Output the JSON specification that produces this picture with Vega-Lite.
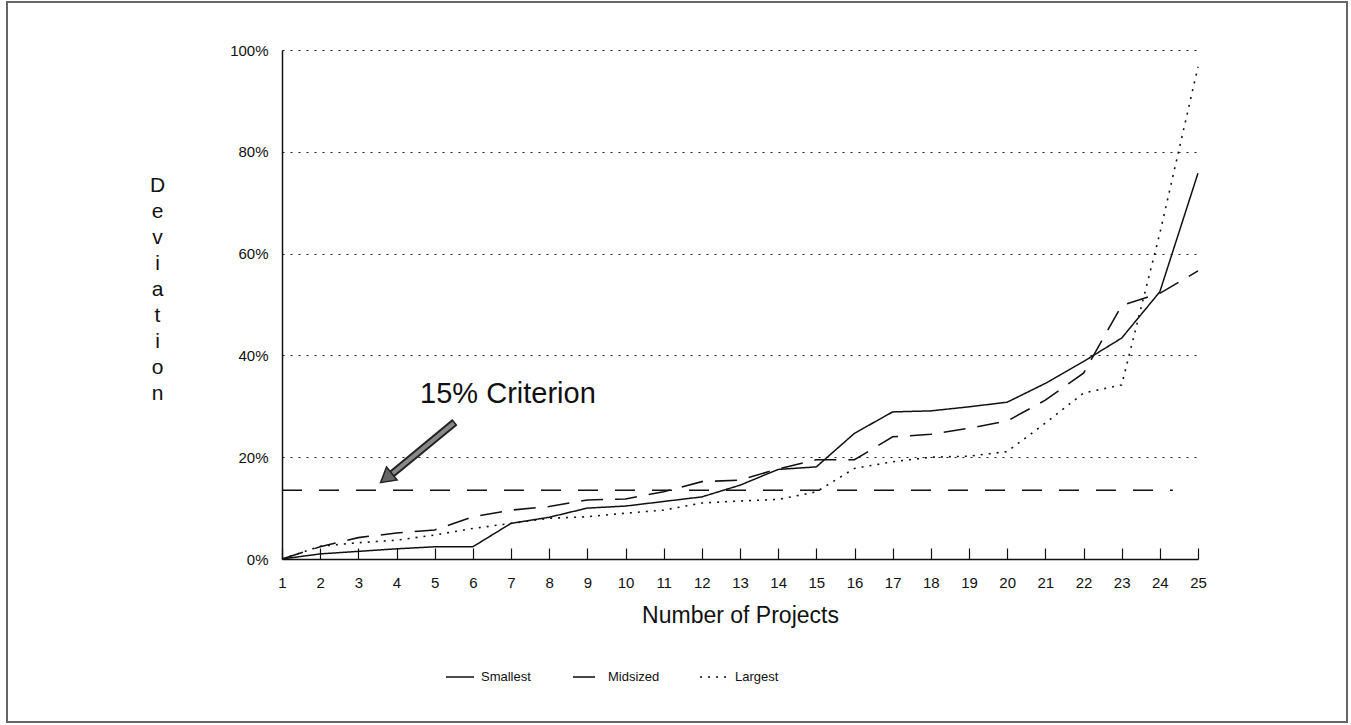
{
  "$schema": "https://vega.github.io/schema/vega-lite/v6.json",
  "width": 916,
  "height": 509,
  "padding": {"left": 6, "top": 1, "right": 0, "bottom": 0},
  "background": "white",
  "config": {
    "view": {"stroke": null},
    "font": "Liberation Sans",
    "axis": {"labelFont": "Liberation Sans", "titleFont": "Liberation Sans", "labelColor": "#111", "titleColor": "#111", "titleFontWeight": "normal"},
    "legend": {"labelFont": "Liberation Sans"}
  },
  "datasets": {
    "series": [
      {"project": 1, "series": "Smallest", "deviation": 0},
      {"project": 2, "series": "Smallest", "deviation": 0.01},
      {"project": 3, "series": "Smallest", "deviation": 0.015},
      {"project": 4, "series": "Smallest", "deviation": 0.02},
      {"project": 5, "series": "Smallest", "deviation": 0.024},
      {"project": 6, "series": "Smallest", "deviation": 0.024},
      {"project": 7, "series": "Smallest", "deviation": 0.07},
      {"project": 8, "series": "Smallest", "deviation": 0.082},
      {"project": 9, "series": "Smallest", "deviation": 0.1},
      {"project": 10, "series": "Smallest", "deviation": 0.104},
      {"project": 11, "series": "Smallest", "deviation": 0.113},
      {"project": 12, "series": "Smallest", "deviation": 0.122},
      {"project": 13, "series": "Smallest", "deviation": 0.145},
      {"project": 14, "series": "Smallest", "deviation": 0.176},
      {"project": 15, "series": "Smallest", "deviation": 0.181},
      {"project": 16, "series": "Smallest", "deviation": 0.247},
      {"project": 17, "series": "Smallest", "deviation": 0.289},
      {"project": 18, "series": "Smallest", "deviation": 0.291},
      {"project": 19, "series": "Smallest", "deviation": 0.299},
      {"project": 20, "series": "Smallest", "deviation": 0.308},
      {"project": 21, "series": "Smallest", "deviation": 0.345},
      {"project": 22, "series": "Smallest", "deviation": 0.388},
      {"project": 23, "series": "Smallest", "deviation": 0.434},
      {"project": 24, "series": "Smallest", "deviation": 0.525},
      {"project": 25, "series": "Smallest", "deviation": 0.758},
      {"project": 1, "series": "Midsized", "deviation": 0},
      {"project": 2, "series": "Midsized", "deviation": 0.024},
      {"project": 3, "series": "Midsized", "deviation": 0.042},
      {"project": 4, "series": "Midsized", "deviation": 0.051},
      {"project": 5, "series": "Midsized", "deviation": 0.057},
      {"project": 6, "series": "Midsized", "deviation": 0.083},
      {"project": 7, "series": "Midsized", "deviation": 0.096},
      {"project": 8, "series": "Midsized", "deviation": 0.103},
      {"project": 9, "series": "Midsized", "deviation": 0.116},
      {"project": 10, "series": "Midsized", "deviation": 0.118},
      {"project": 11, "series": "Midsized", "deviation": 0.132},
      {"project": 12, "series": "Midsized", "deviation": 0.152},
      {"project": 13, "series": "Midsized", "deviation": 0.155},
      {"project": 14, "series": "Midsized", "deviation": 0.177},
      {"project": 15, "series": "Midsized", "deviation": 0.195},
      {"project": 16, "series": "Midsized", "deviation": 0.195},
      {"project": 17, "series": "Midsized", "deviation": 0.24},
      {"project": 18, "series": "Midsized", "deviation": 0.245},
      {"project": 19, "series": "Midsized", "deviation": 0.257},
      {"project": 20, "series": "Midsized", "deviation": 0.271},
      {"project": 21, "series": "Midsized", "deviation": 0.312},
      {"project": 22, "series": "Midsized", "deviation": 0.365},
      {"project": 23, "series": "Midsized", "deviation": 0.498},
      {"project": 24, "series": "Midsized", "deviation": 0.522},
      {"project": 25, "series": "Midsized", "deviation": 0.566},
      {"project": 1, "series": "Largest", "deviation": 0},
      {"project": 2, "series": "Largest", "deviation": 0.025},
      {"project": 3, "series": "Largest", "deviation": 0.032},
      {"project": 4, "series": "Largest", "deviation": 0.037},
      {"project": 5, "series": "Largest", "deviation": 0.047},
      {"project": 6, "series": "Largest", "deviation": 0.06},
      {"project": 7, "series": "Largest", "deviation": 0.07},
      {"project": 8, "series": "Largest", "deviation": 0.08},
      {"project": 9, "series": "Largest", "deviation": 0.083},
      {"project": 10, "series": "Largest", "deviation": 0.09},
      {"project": 11, "series": "Largest", "deviation": 0.096},
      {"project": 12, "series": "Largest", "deviation": 0.11},
      {"project": 13, "series": "Largest", "deviation": 0.114},
      {"project": 14, "series": "Largest", "deviation": 0.117},
      {"project": 15, "series": "Largest", "deviation": 0.132},
      {"project": 16, "series": "Largest", "deviation": 0.178},
      {"project": 17, "series": "Largest", "deviation": 0.191},
      {"project": 18, "series": "Largest", "deviation": 0.2},
      {"project": 19, "series": "Largest", "deviation": 0.202},
      {"project": 20, "series": "Largest", "deviation": 0.211},
      {"project": 21, "series": "Largest", "deviation": 0.267},
      {"project": 22, "series": "Largest", "deviation": 0.326},
      {"project": 23, "series": "Largest", "deviation": 0.342},
      {"project": 24, "series": "Largest", "deviation": 0.64},
      {"project": 25, "series": "Largest", "deviation": 0.967}
    ],
    "one": [{}]
  },
  "layer": [
    {
      "data": {"name": "series"},
      "mark": {"type": "line", "color": "#111", "strokeCap": "butt"},
      "encoding": {
        "x": {
          "field": "project", "type": "quantitative",
          "scale": {"domain": [1, 25], "nice": false, "zero": false},
          "axis": {
            "title": "Number of Projects",
            "values": [1,2,3,4,5,6,7,8,9,10,11,12,13,14,15,16,17,18,19,20,21,22,23,24,25],
            "tickCount": 40,
            "format": "d",
            "labelOverlap": false,
            "labelFlush": false,
            "grid": false,
            "domainColor": "#111", "domainWidth": 1.5,
            "tickColor": "#111", "tickWidth": 1.2, "tickSize": -11,
            "labelFontSize": 15, "labelPadding": 27,
            "titleFontSize": 23, "titlePadding": 14
          }
        },
        "y": {
          "field": "deviation", "type": "quantitative",
          "scale": {"domain": [0, 1], "nice": false},
          "axis": {
            "title": ["D", "e", "v", "i", "a", "t", "i", "o", "n"],
            "values": [0, 0.2, 0.4, 0.6, 0.8, 1],
            "tickCount": 10,
            "format": ".0%",
            "labelOverlap": false,
            "labelFlush": false,
            "ticks": false,
            "domainColor": "#111", "domainWidth": 1.5,
            "grid": true, "gridDash": [2, 6], "gridColor": "#222", "gridWidth": 1.2,
            "labelFontSize": 15, "labelPadding": 14,
            "titleAngle": 0, "titleFontSize": 21, "titleLineHeight": 26,
            "titleAlign": "center", "titleBaseline": "top",
            "titleX": -125, "titleY": 124
          }
        },
        "strokeDash": {
          "field": "series", "type": "nominal",
          "scale": {"domain": ["Smallest", "Midsized", "Largest"], "range": [[1, 0], [22, 12], [2, 6]]},
          "legend": {
            "title": null, "orient": "none", "legendX": 163, "legendY": 612,
            "direction": "horizontal", "symbolType": "stroke", "symbolSize": 784,
            "symbolStrokeColor": "#111", "symbolStrokeWidth": 1.5,
            "labelFontSize": 13, "labelColor": "#111", "labelOffset": 6,
            "gridAlign": "all", "columnPadding": 36
          }
        },
        "strokeWidth": {
          "field": "series", "type": "nominal",
          "scale": {"domain": ["Smallest", "Midsized", "Largest"], "range": [1.5, 1.6, 2]},
          "legend": null
        }
      }
    },
    {
      "data": {"name": "one"},
      "mark": {"type": "rect", "fillOpacity": 0, "stroke": "#666", "strokeWidth": 2, "clip": false},
      "encoding": {
        "x": {"datum": -6.205, "type": "quantitative"},
        "x2": {"datum": 28.904},
        "y": {"datum": 1.0943, "type": "quantitative"},
        "y2": {"datum": -0.3202}
      }
    },
    {
      "data": {"name": "one"},
      "mark": {"type": "rule", "color": "#111", "strokeWidth": 1.5, "strokeDash": [20, 17]},
      "encoding": {
        "x": {"datum": 1, "type": "quantitative"},
        "x2": {"datum": 24.34},
        "y": {"datum": 0.135, "type": "quantitative"}
      }
    },
    {
      "data": {"name": "one"},
      "mark": {"type": "text", "text": "15% Criterion", "fontSize": 29, "letterSpacing": 1, "font": "Liberation Sans", "color": "#111", "align": "center", "baseline": "alphabetic"},
      "encoding": {
        "x": {"datum": 6.92, "type": "quantitative"},
        "y": {"datum": 0.306, "type": "quantitative"}
      }
    },
    {
      "data": {"name": "one"},
      "mark": {"type": "rule", "color": "#222", "strokeWidth": 8, "strokeCap": "butt"},
      "encoding": {
        "x": {"datum": 5.53, "type": "quantitative"},
        "x2": {"datum": 3.88},
        "y": {"datum": 0.269, "type": "quantitative"},
        "y2": {"datum": 0.167}
      }
    },
    {
      "data": {"name": "one"},
      "mark": {"type": "rule", "color": "#888", "strokeWidth": 4, "strokeCap": "butt"},
      "encoding": {
        "x": {"datum": 5.5, "type": "quantitative"},
        "x2": {"datum": 3.88},
        "y": {"datum": 0.267, "type": "quantitative"},
        "y2": {"datum": 0.167}
      }
    },
    {
      "data": {"name": "one"},
      "mark": {"type": "point", "shape": "triangle-up", "filled": true, "fill": "#666", "stroke": "#222", "strokeWidth": 1.5, "opacity": 1, "size": 280, "angle": 231},
      "encoding": {
        "x": {"datum": 3.73, "type": "quantitative"},
        "y": {"datum": 0.159, "type": "quantitative"}
      }
    }
  ]
}
